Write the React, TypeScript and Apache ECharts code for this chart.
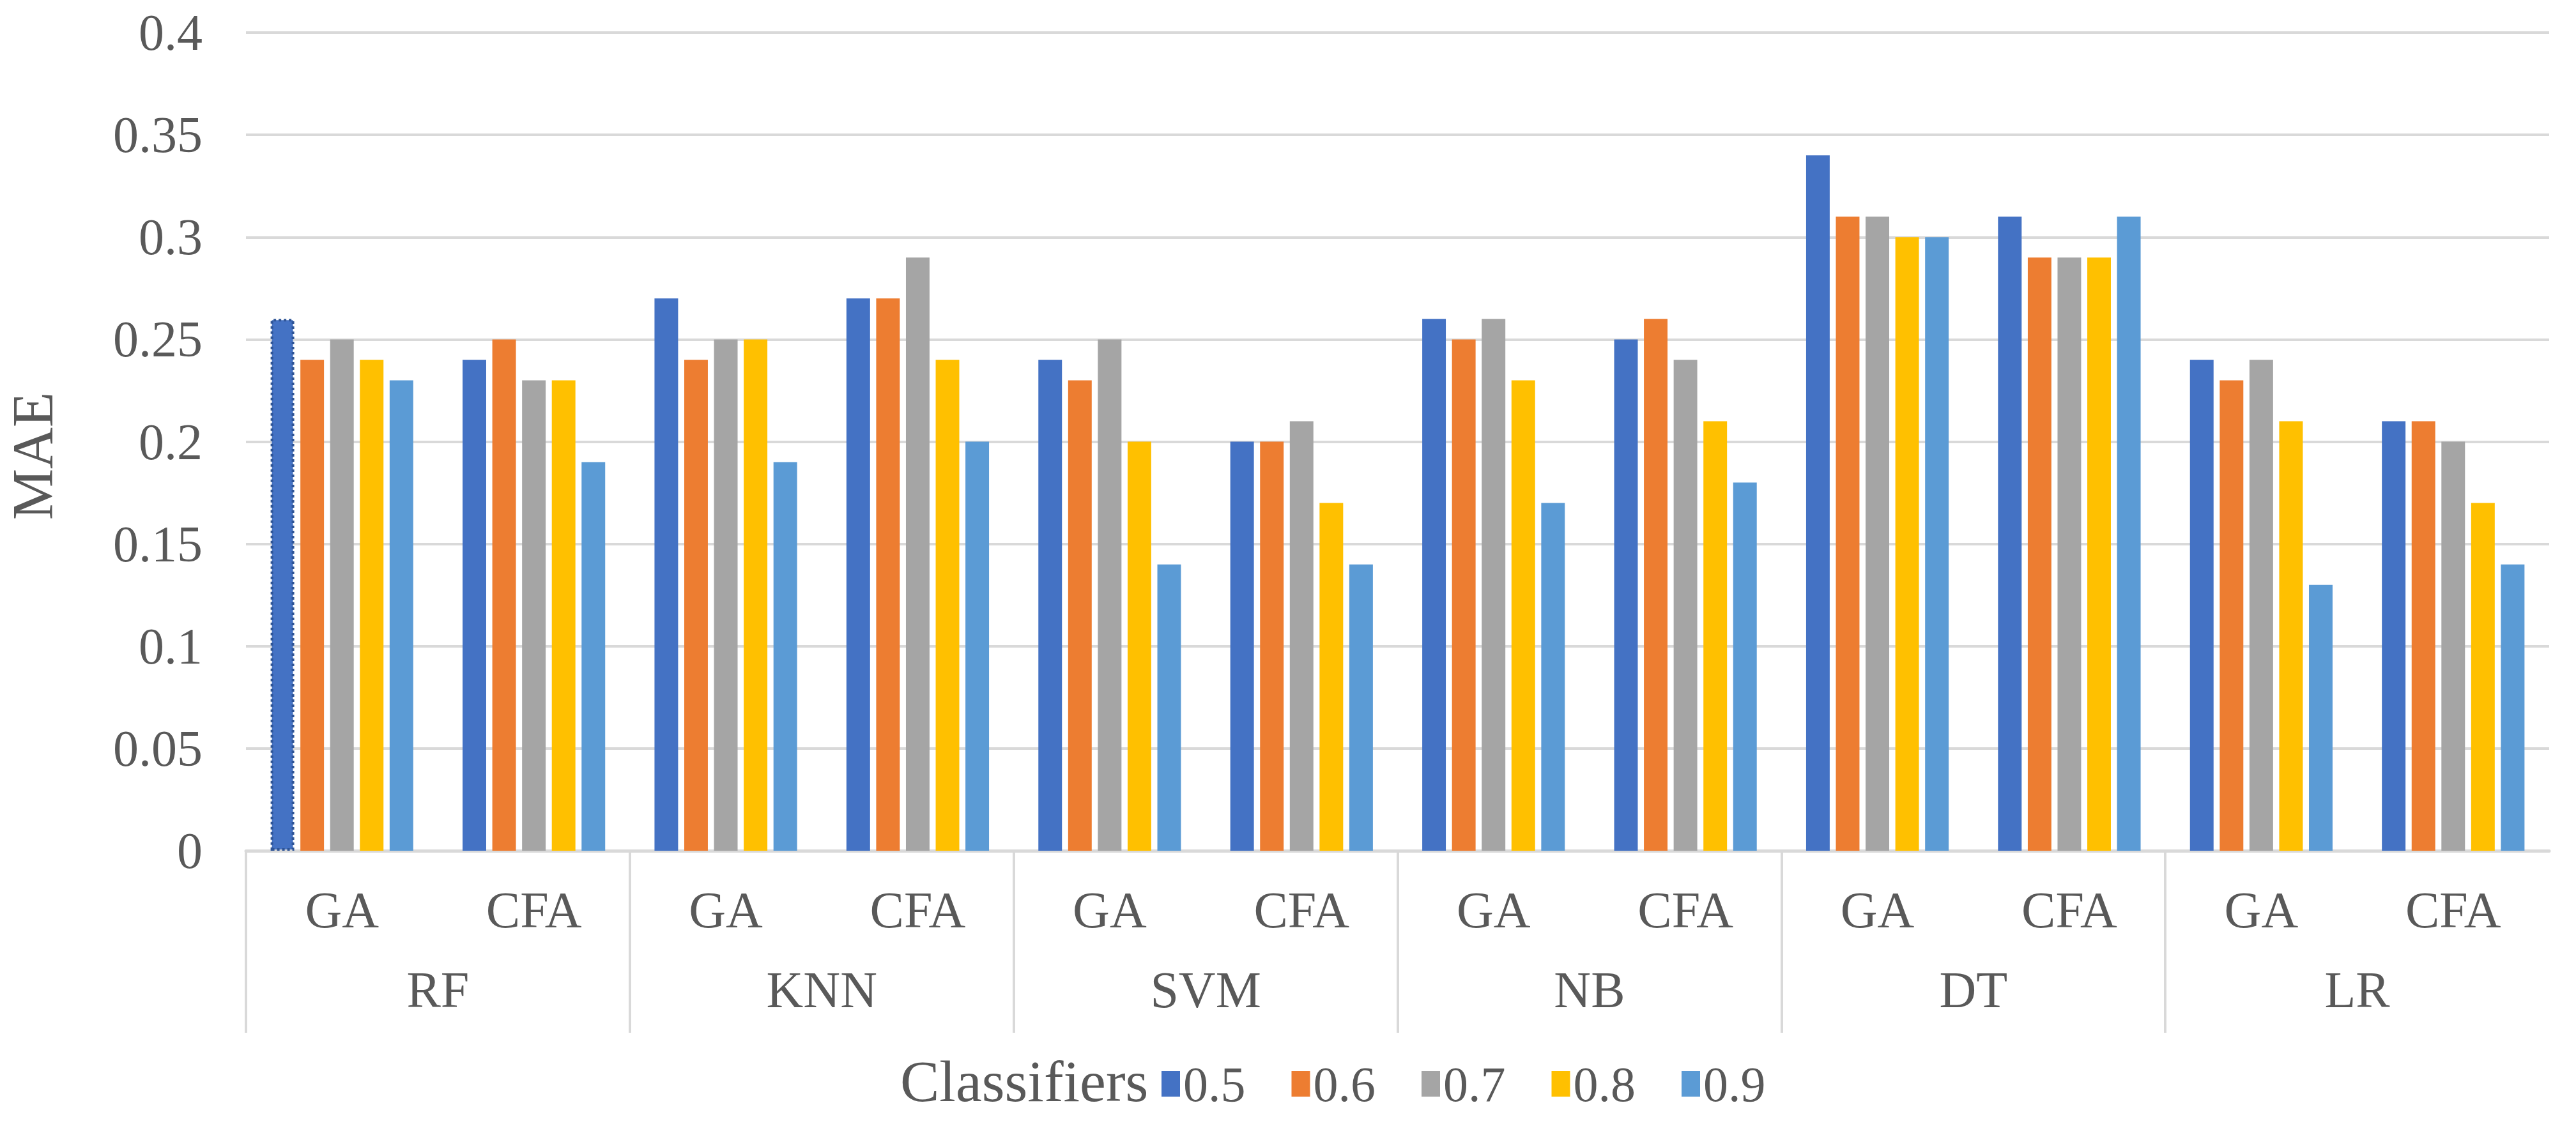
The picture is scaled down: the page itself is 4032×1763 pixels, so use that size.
import React, { useEffect, useRef } from "react";
import * as echarts from "echarts";

const subCategories = ["GA", "CFA", "GA", "CFA", "GA", "CFA", "GA", "CFA", "GA", "CFA", "GA", "CFA"];
const groupNames = ["RF", "KNN", "SVM", "NB", "DT", "LR"];
const seriesNames = ["0.5", "0.6", "0.7", "0.8", "0.9"];
const s05 = [0.26, 0.24, 0.27, 0.27, 0.24, 0.2, 0.26, 0.25, 0.34, 0.31, 0.24, 0.21];
const s06 = [0.24, 0.25, 0.24, 0.27, 0.23, 0.2, 0.25, 0.26, 0.31, 0.29, 0.23, 0.21];
const s07 = [0.25, 0.23, 0.25, 0.29, 0.25, 0.21, 0.26, 0.24, 0.31, 0.29, 0.24, 0.2];
const s08 = [0.24, 0.23, 0.25, 0.24, 0.2, 0.17, 0.23, 0.21, 0.3, 0.29, 0.21, 0.17];
const s09 = [0.23, 0.19, 0.19, 0.2, 0.14, 0.14, 0.17, 0.18, 0.3, 0.31, 0.13, 0.14];
const seriesValues = [s05, s06, s07, s08, s09];
const colors = ["#4472C4", "#ED7D31", "#A5A5A5", "#FFC000", "#5B9BD5"];
const yTicks = { min: 0, max: 0.4, interval: 0.05 };
const groupBoundaries = [0, 2, 4, 6, 8, 10];
const groupCenters = [1, 3, 5, 7, 9, 11];

const FONT = "Liberation Serif";
const TEXT = "#595959";
const GRID = "#D9D9D9";

export default function App() {
  const ref = useRef<HTMLDivElement>(null);
  useEffect(() => {
    document.body.style.margin = "0";
    const chart = echarts.init(ref.current!, null, { renderer: "svg" });
    const series = seriesValues.map((vals, si) => ({
      name: seriesNames[si],
      type: "bar",
      xAxisIndex: 0,
      yAxisIndex: 0,
      barCategoryGap: "25.7%",
      barGap: "26%",
      itemStyle: { color: colors[si] },
      data: vals.map((v, i) =>
        si === 0 && i === 0
          ? { value: v, itemStyle: { color: colors[si], borderColor: "#2F5597", borderWidth: 4, borderType: "dotted" } }
          : v
      ),
    }));
    chart.setOption({
      animation: false,
      backgroundColor: "#ffffff",
      textStyle: { fontFamily: FONT },
      grid: { left: 385, right: 42, top: 51, bottom: 431, containLabel: false },
      legend: {
        data: seriesNames,
        left: 1818,
        top: 1658,
        padding: 0,
        icon: "rect",
        itemWidth: 29,
        itemHeight: 40,
        itemGap: 72,
        textStyle: { fontFamily: FONT, fontSize: 78, lineHeight: 78, color: TEXT },
      },
      graphic: [
        {
          type: "text",
          left: 1409,
          top: 1697 - 50,
          style: { text: "Classifiers", fontFamily: FONT, fontSize: 92, fill: TEXT },
        },
        {
          type: "text",
          x: 51,
          y: 714,
          rotation: Math.PI / 2,
          style: { text: "MAE", fontFamily: FONT, fontSize: 90, fill: TEXT, align: "center", verticalAlign: "middle" },
        },
      ],
      xAxis: [
        {
          type: "category",
          data: subCategories,
          position: "bottom",
          axisLine: { show: true, lineStyle: { color: GRID, width: 5 } },
          axisTick: { show: false },
          axisLabel: { interval: 0, margin: 53, fontSize: 80, color: TEXT, fontFamily: FONT },
          splitLine: { show: false },
        },
        {
          type: "value",
          min: 0,
          max: 12,
          position: "bottom",
          axisLine: { show: false },
          splitLine: { show: false },
          axisTick: {
            show: true,
            customValues: groupBoundaries,
            length: 285,
            lineStyle: { color: GRID, width: 4 },
          },
          axisLabel: {
            customValues: groupCenters,
            margin: 178,
            fontSize: 80,
            color: TEXT,
            fontFamily: FONT,
            formatter: (v: number) => groupNames[Math.round((v - 1) / 2)] ?? "",
          },
        },
      ],
      yAxis: {
        type: "value",
        min: yTicks.min,
        max: yTicks.max,
        interval: yTicks.interval,
        axisLine: { show: false },
        axisTick: { show: false },
        splitLine: { show: true, lineStyle: { color: GRID, width: 4 } },
        axisLabel: {
          margin: 68,
          fontSize: 80,
          color: TEXT,
          fontFamily: FONT,
          formatter: (v: number) => String(+v.toFixed(2)),
        },
      },
      series,
    });
    return () => chart.dispose();
  }, []);
  return <div ref={ref} style={{ position: "fixed", left: 0, top: 0, width: 4032, height: 1763 }} />;
}
